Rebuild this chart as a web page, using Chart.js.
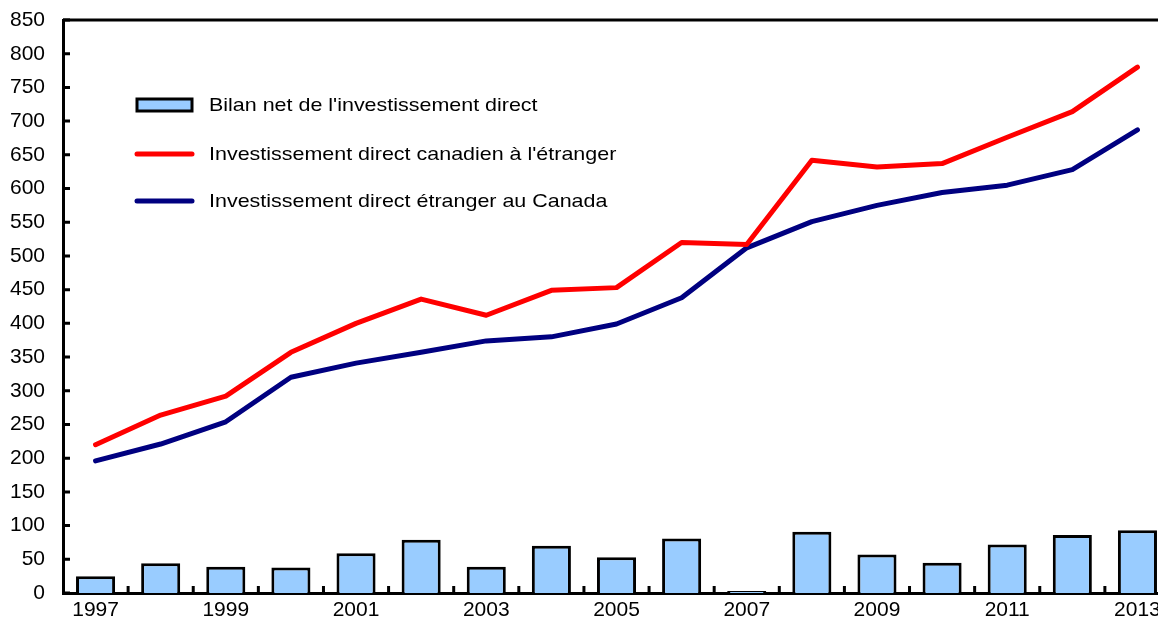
<!DOCTYPE html>
<html>
<head>
<meta charset="utf-8">
<script src="https://cdn.jsdelivr.net/npm/chart.js@4.4.0/dist/chart.umd.min.js"></script>
<style>
  html, body { margin: 0; padding: 0; background: #fff; overflow: hidden; }
  #wrap { width: 1158px; height: 620px; overflow: hidden; }
</style>
</head>
<body>
<div id="wrap"><canvas id="chart" width="1172" height="620"></canvas></div>
<script>
// années
const years = ["1997", "1998", "1999", "2000", "2001", "2002", "2003", "2004", "2005",
               "2006", "2007", "2008", "2009", "2010", "2011", "2012", "2013"];

// Bilan net de l'investissement direct (barres)
const netBalance = [25, 44, 39, 38, 59, 79, 39, 70, 53, 81, 3, 91, 57, 45, 72, 86, 93];

// Investissement direct canadien à l'étranger
const cdiaAbroad = [220, 264, 292, 357, 400, 436, 412, 449, 453, 520, 517, 642, 632, 637, 676, 714, 780];

// Investissement direct étranger au Canada
const fdiCanada = [196, 221, 254, 320, 341, 357, 374, 380, 399, 438, 512, 551, 575, 594, 605, 628, 687];

const FONT = "'Liberation Sans', Arial, Helvetica, sans-serif";

// ticks vers l'intérieur + bordure du haut
const innerTicks = {
    id: "innerTicks",
    afterDraw(chart) {
        const { ctx, chartArea, scales } = chart;
        const x = scales.x, y = scales.y;
        ctx.save();
        ctx.strokeStyle = "#000";
        ctx.lineWidth = 3;
        ctx.beginPath();
        y.ticks.forEach((t, i) => {
            const py = y.getPixelForTick(i);
            ctx.moveTo(chartArea.left, py);
            ctx.lineTo(chartArea.left + 7, py);
        });
        for (let i = 1; i < years.length; i++) {
            const px = (x.getPixelForValue(i - 1) + x.getPixelForValue(i)) / 2;
            ctx.moveTo(px, chartArea.bottom);
            ctx.lineTo(px, chartArea.bottom - 7);
        }
        ctx.stroke();
        ctx.lineWidth = 3;
        ctx.beginPath();
        ctx.moveTo(chartArea.left, chartArea.top);
        ctx.lineTo(chartArea.right + 10, chartArea.top);
        ctx.stroke();
        ctx.restore();
    }
};

// légende dans la zone du graphique
const insideLegend = {
    id: "insideLegend",
    afterDraw(chart) {
        const ctx = chart.ctx;
        const x0 = 137, x1 = 192, tx = 209;
        const rows = [105, 154, 201];
        ctx.save();
        ctx.textBaseline = "middle";
        chart.data.datasets.forEach((ds, i) => {
            const yy = rows[i];
            if (ds.type === "bar") {
                ctx.fillStyle = ds.backgroundColor;
                ctx.fillRect(x0, yy - 6, x1 - x0, 12);
                ctx.strokeStyle = "#000";
                ctx.lineWidth = 3;
                ctx.strokeRect(x0, yy - 6, x1 - x0, 12);
            } else {
                ctx.strokeStyle = ds.borderColor;
                ctx.lineWidth = 5;
                ctx.lineCap = "round";
                ctx.beginPath();
                ctx.moveTo(x0, yy);
                ctx.lineTo(x1, yy);
                ctx.stroke();
            }
            // texte un peu élargi comme dans l'original
            ctx.save();
            ctx.translate(tx, yy + 1);
            ctx.scale(1.16, 1);
            ctx.font = "18.5px " + FONT;
            ctx.fillStyle = "#000";
            ctx.fillText(ds.label, 0, 0);
            ctx.restore();
        });
        ctx.restore();
    }
};

const ctx = document.getElementById("chart").getContext("2d");
const chart = new Chart(ctx, {
    data: {
        labels: years,
        datasets: [{
            type: "bar",
            label: "Bilan net de l'investissement direct",
            data: netBalance,
            backgroundColor: "#99CCFF",
            borderColor: "#000",
            borderWidth: 3,
            categoryPercentage: 1,
            barPercentage: 0.6,
            order: 3
        }, {
            type: "line",
            label: "Investissement direct canadien à l'étranger",
            data: cdiaAbroad,
            borderColor: "#FF0000",
            borderWidth: 5,
            pointRadius: 0,
            borderJoinStyle: "round",
            borderCapStyle: "round",
            tension: 0,
            order: 1
        }, {
            type: "line",
            label: "Investissement direct étranger au Canada",
            data: fdiCanada,
            borderColor: "#000080",
            borderWidth: 5,
            pointRadius: 0,
            borderJoinStyle: "round",
            borderCapStyle: "round",
            tension: 0,
            order: 2
        }]
    },
    options: {
        responsive: false,
        animation: false,
        layout: {
            padding: { top: 20, right: 2, left: 0, bottom: 0 }
        },
        plugins: {
            legend: { display: false },
            tooltip: { enabled: false }
        },
        scales: {
            x: {
                offset: true,
                grid: { display: false, drawTicks: false },
                border: { display: true, color: "#000", width: 3 },
                ticks: {
                    color: "#000",
                    font: { family: FONT, size: 21 },
                    padding: 5,
                    autoSkip: false,
                    maxRotation: 0,
                    callback: function (v, i) {
                        return i % 2 === 0 ? years[i] : "";
                    }
                },
                afterFit(scale) {
                    scale.height = 27;
                    scale.paddingLeft = 0;
                    scale.paddingRight = 0;
                }
            },
            y: {
                min: 0,
                max: 850,
                grid: { display: false, drawTicks: false },
                border: { display: true, color: "#000", width: 3 },
                ticks: {
                    stepSize: 50,
                    color: "#000",
                    font: { family: FONT, size: 21 },
                    padding: 18
                },
                afterFit(scale) {
                    scale.width = 63;
                    scale.paddingTop = 0;
                    scale.paddingBottom = 0;
                }
            }
        }
    },
    plugins: [innerTicks, insideLegend]
});
</script>
</body>
</html>
